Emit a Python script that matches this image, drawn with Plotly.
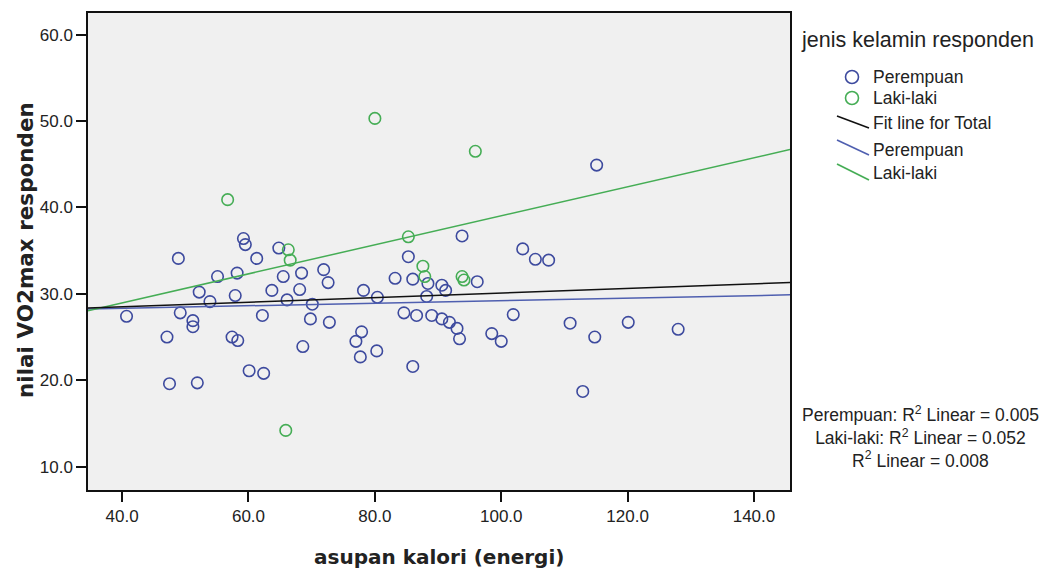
import plotly.graph_objects as go

# ---- data ----
perempuan_x = [40.7, 47.1, 47.5, 48.9, 49.2, 51.2, 51.2, 51.9, 52.2, 53.9, 55.1, 57.4, 58.3, 57.9,
               58.2, 59.2, 59.5, 60.1, 61.3, 62.2, 62.4, 63.7, 64.8, 65.5, 66.1, 68.1, 68.4, 68.6,
               69.8, 70.1, 71.9, 72.6, 72.8, 77.0, 77.9, 77.7, 78.2, 80.3, 80.4, 83.2, 84.6, 85.3,
               86.0, 86.0, 86.6, 88.2, 88.4, 89.0, 90.6, 91.2, 90.6, 91.8, 93.0, 93.4, 93.8, 96.2,
               98.5, 100.0, 101.9, 103.4, 105.4, 107.5, 110.9, 112.9, 114.8, 115.1, 120.1, 128.0]
perempuan_y = [27.4, 25.0, 19.6, 34.1, 27.8, 26.9, 26.2, 19.7, 30.2, 29.1, 32.0, 25.0, 24.6, 29.8,
               32.4, 36.4, 35.7, 21.1, 34.1, 27.5, 20.8, 30.4, 35.3, 32.0, 29.3, 30.5, 32.4, 23.9,
               27.1, 28.8, 32.8, 31.3, 26.7, 24.5, 25.6, 22.7, 30.4, 23.4, 29.6, 31.8, 27.8, 34.3,
               21.6, 31.7, 27.5, 29.7, 31.2, 27.5, 31.0, 30.4, 27.1, 26.7, 26.0, 24.8, 36.7, 31.4,
               25.4, 24.5, 27.6, 35.2, 34.0, 33.9, 26.6, 18.7, 25.0, 44.9, 26.7, 25.9]

laki_x = [56.7, 65.9, 66.3, 66.6, 80.0, 85.3, 87.6, 87.9, 93.8, 94.1, 95.9]
laki_y = [40.9, 14.2, 35.1, 33.9, 50.3, 36.6, 33.2, 32.0, 32.0, 31.6, 46.5]

# fit lines (intercept, slope)
fit_total = (27.43, 0.0266)
fit_perempuan = (27.74, 0.0147)
fit_laki = (22.24, 0.1679)

x_range = [34.6, 145.7]
y_range = [7.3, 62.5]
x_ticks = [40, 60, 80, 100, 120, 140]
y_ticks = [10, 20, 30, 40, 50, 60]

r2_lines = ["Perempuan: R<sup>2</sup> Linear = 0.005",
            "Laki-laki: R<sup>2</sup> Linear = 0.052",
            "R<sup>2</sup> Linear = 0.008"]

legend_title = "jenis kelamin responden"
legend_labels = ["Perempuan", "Laki-laki", "Fit line for Total", "Perempuan", "Laki-laki"]

# ---- styles ----
BLUE = "#3d4a9e"
GREEN = "#45ad55"
FONT = "Arial, 'Liberation Sans', sans-serif"
TITLE_FONT = "'DejaVu Sans', Verdana, sans-serif"

fig = go.Figure()

fig.add_trace(go.Scatter(x=perempuan_x, y=perempuan_y, mode="markers",
                         marker=dict(symbol="circle-open", size=11.5, color=BLUE,
                                     line=dict(width=1.6, color=BLUE)),
                         showlegend=False))
fig.add_trace(go.Scatter(x=laki_x, y=laki_y, mode="markers",
                         marker=dict(symbol="circle-open", size=11.5, color=GREEN,
                                     line=dict(width=1.6, color=GREEN)),
                         showlegend=False))

def fit_y(coef):
    return [coef[0] + coef[1] * xv for xv in x_range]

fig.add_trace(go.Scatter(x=x_range, y=fit_y(fit_perempuan), mode="lines",
                         line=dict(color="#4f5fb0", width=1.5), showlegend=False))
fig.add_trace(go.Scatter(x=x_range, y=fit_y(fit_laki), mode="lines",
                         line=dict(color=GREEN, width=1.5), showlegend=False))
fig.add_trace(go.Scatter(x=x_range, y=fit_y(fit_total), mode="lines",
                         line=dict(color="#111111", width=1.5), showlegend=False))

W, H = 1045, 576
L, R, T, B = 88, 790, 13, 490

def px(xp):
    return (xp - L) / (R - L)

def py(yp):
    return (B - yp) / (B - T)

annotations = []
shapes = []

# legend title
annotations.append(dict(x=px(799), y=py(40), xref="paper", yref="paper", text=legend_title,
                        showarrow=False, xanchor="left", yanchor="middle",
                        font=dict(family=FONT, size=21.5, color="#222")))
# legend entries
entry_y = [77, 98, 123, 150, 173]
for lab, ey in zip(legend_labels, entry_y):
    annotations.append(dict(x=px(871), y=py(ey), xref="paper", yref="paper", text=lab,
                            showarrow=False, xanchor="left", yanchor="middle",
                            font=dict(family=FONT, size=17.5, color="#222")))
for cy, col in [(77, BLUE), (98, GREEN)]:
    shapes.append(dict(type="circle", xref="paper", yref="paper", xsizemode="pixel",
                       ysizemode="pixel", xanchor=px(852), yanchor=py(cy),
                       x0=-6.5, x1=6.5, y0=-6.5, y1=6.5,
                       line=dict(color=col, width=1.6)))
for (y0, y1), col in [((116, 128), "#111111"), ((140, 155), "#4f5fb0"), ((164, 180), GREEN)]:
    shapes.append(dict(type="line", xref="paper", yref="paper",
                       x0=px(837), x1=px(869), y0=py(y0), y1=py(y1),
                       line=dict(color=col, width=1.6)))

# R2 text
annotations.append(dict(x=px(920), y=py(437), xref="paper", yref="paper",
                        text="<br>".join(r2_lines), showarrow=False, align="center",
                        xanchor="center", yanchor="middle",
                        font=dict(family=FONT, size=17.5, color="#222")))

# axis titles
annotations.append(dict(x=px(439), y=py(557), xref="paper", yref="paper",
                        text="<b>asupan kalori (energi)</b>", showarrow=False,
                        xanchor="center", yanchor="middle",
                        font=dict(family=TITLE_FONT, size=20, color="#222")))
annotations.append(dict(x=px(25), y=py(250), xref="paper", yref="paper",
                        text="<b>nilai VO2max responden</b>", showarrow=False, textangle=-90,
                        xanchor="center", yanchor="middle",
                        font=dict(family=TITLE_FONT, size=21.5, color="#222")))

axis_common = dict(showgrid=False, zeroline=False, showline=True, linecolor="#111",
                   linewidth=1.5, mirror=True, ticks="outside", ticklen=10, tickwidth=2,
                   tickcolor="#111", tickformat=".1f",
                   tickfont=dict(family=FONT, size=17, color="#222"))

fig.update_layout(
    width=W, height=H,
    margin=dict(l=L, r=W - R, t=T, b=H - B, autoexpand=False),
    paper_bgcolor="white", plot_bgcolor="#f0f0f0",
    xaxis=dict(range=x_range, tickvals=x_ticks, **axis_common),
    yaxis=dict(range=y_range, tickvals=y_ticks, **axis_common),
    annotations=annotations, shapes=shapes, showlegend=False,
)

fig.write_html("out.html")
